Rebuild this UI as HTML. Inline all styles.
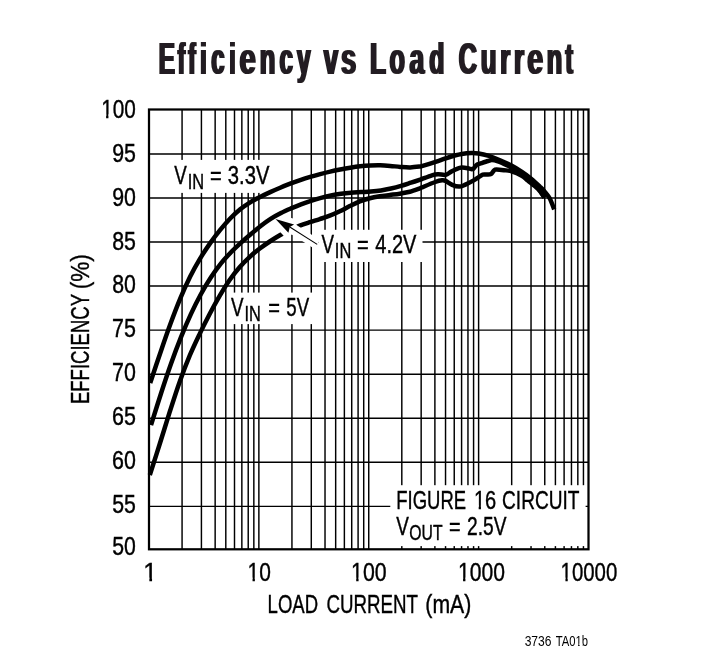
<!DOCTYPE html>
<html lang="en"><head><meta charset="utf-8"><title>Efficiency vs Load Current</title>
<style>html,body{margin:0;padding:0;background:#fff}body{width:722px;height:670px;overflow:hidden}svg{display:block}text{font-family:"Liberation Sans",sans-serif;fill:#231f20}g text{fill:#000}</style></head><body>
<svg width="722" height="670" viewBox="0 0 722 670">
<rect width="722" height="670" fill="#fff"/>
<path d="M182.07 109.50V549.30M201.42 109.50V549.30M215.15 109.50V549.30M225.80 109.50V549.30M234.50 109.50V549.30M241.85 109.50V549.30M248.22 109.50V549.30M253.84 109.50V549.30M258.87 109.50V549.30M291.94 109.50V549.30M311.29 109.50V549.30M325.02 109.50V549.30M335.67 109.50V549.30M344.37 109.50V549.30M351.72 109.50V549.30M358.09 109.50V549.30M363.71 109.50V549.30M368.74 109.50V549.30M401.81 109.50V549.30M421.16 109.50V549.30M434.89 109.50V549.30M445.54 109.50V549.30M454.24 109.50V549.30M461.59 109.50V549.30M467.96 109.50V549.30M473.58 109.50V549.30M478.61 109.50V549.30M511.68 109.50V549.30M531.03 109.50V549.30M544.76 109.50V549.30M555.41 109.50V549.30M564.11 109.50V549.30M571.46 109.50V549.30M577.83 109.50V549.30M583.45 109.50V549.30M149.00 153.90H588.50M149.00 197.96H588.50M149.00 242.02H588.50M149.00 286.08H588.50M149.00 330.14H588.50M149.00 374.20H588.50M149.00 418.26H588.50M149.00 462.32H588.50M149.00 506.38H588.50" stroke="#000" stroke-width="1.45" fill="none"/>
<rect x="172.0" y="159.9" width="103.5" height="33.0" fill="#fff"/>
<rect x="318.5" y="229.8" width="104.0" height="32.2" fill="#fff"/>
<rect x="228.5" y="292.6" width="87.0" height="31.5" fill="#fff"/>
<rect x="390.3" y="485.2" width="195.3" height="60.9" fill="#fff"/>
<rect x="149.00" y="109.50" width="439.50" height="439.80" fill="none" stroke="#000" stroke-width="2.25"/>
<path d="M149.80 475.00C151.47 469.80 156.47 454.35 159.80 443.80C163.13 433.25 166.47 422.10 169.80 411.70C173.13 401.30 176.47 390.78 179.80 381.40C183.13 372.02 186.47 363.37 189.80 355.40C193.13 347.43 196.47 340.55 199.80 333.60C203.13 326.65 206.47 320.03 209.80 313.70C213.13 307.37 216.47 301.25 219.80 295.60C223.13 289.95 226.47 284.57 229.80 279.80C233.13 275.03 236.47 270.83 239.80 267.00C243.13 263.17 246.47 259.88 249.80 256.80C253.13 253.72 256.47 251.05 259.80 248.50C263.13 245.95 266.47 243.70 269.80 241.50C273.13 239.30 276.47 237.22 279.80 235.30C283.13 233.38 286.47 231.62 289.80 230.00C293.13 228.38 296.47 226.90 299.80 225.60C303.13 224.30 306.47 223.28 309.80 222.20C313.13 221.12 316.47 220.18 319.80 219.10C323.13 218.02 326.47 217.00 329.80 215.70C333.13 214.40 336.47 212.90 339.80 211.30C343.13 209.70 346.47 207.77 349.80 206.10C353.13 204.43 356.47 202.62 359.80 201.30C363.13 199.98 366.47 199.03 369.80 198.20C373.13 197.37 376.47 196.83 379.80 196.30C383.13 195.77 386.47 195.43 389.80 195.00C393.13 194.57 396.47 194.23 399.80 193.70C403.13 193.17 406.47 192.68 409.80 191.80C413.13 190.92 417.80 189.12 419.80 188.40C421.80 187.68 419.23 188.57 421.80 187.50C424.37 186.43 431.82 183.20 435.20 182.00C438.58 180.80 440.35 180.48 442.10 180.30C443.85 180.12 444.02 180.13 445.70 180.90C447.38 181.67 449.93 183.95 452.20 184.90C454.47 185.85 457.10 186.65 459.30 186.60C461.50 186.55 463.00 185.63 465.40 184.60C467.80 183.57 471.48 181.63 473.70 180.40C475.92 179.17 477.20 178.15 478.70 177.20C480.20 176.25 481.33 175.13 482.70 174.70C484.07 174.27 485.52 174.72 486.90 174.60C488.28 174.48 489.82 174.70 491.00 174.00C492.18 173.30 493.10 171.13 494.00 170.40C494.90 169.67 494.75 169.63 496.40 169.60C498.05 169.57 501.37 169.92 503.90 170.20C506.43 170.48 508.62 170.37 511.60 171.30C514.58 172.23 519.10 174.25 521.80 175.80C524.50 177.35 525.10 178.40 527.80 180.60C530.50 182.80 535.22 186.18 538.00 189.00C540.78 191.82 543.42 196.08 544.50 197.50" stroke="#000" stroke-width="4.50" fill="none" stroke-linejoin="round"/>
<path d="M289.8 227.0L317.2 244.4" stroke="#fff" stroke-width="10.4" fill="none"/>
<path d="M275.5 219.0L294.1 224.5L289.8 227.0L288.4 232.8Z" fill="#fff" stroke="#fff" stroke-width="11" stroke-linejoin="bevel"/>
<path d="M289.8 227.0L317.2 244.4" stroke="#000" stroke-width="1.1" fill="none"/>
<path d="M275.5 219.0L294.1 224.5L289.8 227.0L288.4 232.8Z" fill="#000"/>
<path d="M151.00 425.20C152.67 419.92 157.67 403.73 161.00 393.50C164.33 383.27 167.67 373.18 171.00 363.80C174.33 354.42 177.67 345.52 181.00 337.20C184.33 328.88 187.67 321.10 191.00 313.90C194.33 306.70 197.67 300.10 201.00 294.00C204.33 287.90 207.67 282.40 211.00 277.30C214.33 272.20 217.67 267.58 221.00 263.40C224.33 259.22 227.67 255.65 231.00 252.20C234.33 248.75 237.67 245.73 241.00 242.70C244.33 239.67 247.67 236.83 251.00 234.00C254.33 231.17 257.67 228.27 261.00 225.70C264.33 223.13 267.67 220.72 271.00 218.60C274.33 216.48 277.67 214.70 281.00 213.00C284.33 211.30 287.67 209.85 291.00 208.40C294.33 206.95 297.67 205.57 301.00 204.30C304.33 203.03 307.67 201.87 311.00 200.80C314.33 199.73 317.67 198.78 321.00 197.90C324.33 197.02 327.67 196.18 331.00 195.50C334.33 194.82 337.67 194.27 341.00 193.80C344.33 193.33 347.67 192.98 351.00 192.70C354.33 192.42 357.67 192.30 361.00 192.10C364.33 191.90 367.67 191.78 371.00 191.50C374.33 191.22 377.67 190.90 381.00 190.40C384.33 189.90 387.67 189.25 391.00 188.50C394.33 187.75 397.67 186.87 401.00 185.90C404.33 184.93 407.67 183.78 411.00 182.70C414.33 181.62 419.20 180.00 421.00 179.40C422.80 178.80 419.98 179.78 421.80 179.10C423.62 178.42 429.20 176.10 431.90 175.30C434.60 174.50 435.70 174.38 438.00 174.30C440.30 174.22 443.53 175.22 445.70 174.80C447.87 174.38 449.12 172.80 451.00 171.80C452.88 170.80 455.20 169.50 457.00 168.80C458.80 168.10 460.00 167.70 461.80 167.60C463.60 167.50 466.27 167.95 467.80 168.20C469.33 168.45 470.07 169.00 471.00 169.10C471.93 169.20 472.68 169.25 473.40 168.80C474.12 168.35 474.70 167.10 475.30 166.40C475.90 165.70 476.22 165.07 477.00 164.60C477.78 164.13 478.17 164.20 480.00 163.60C481.83 163.00 486.02 161.58 488.00 161.00C489.98 160.42 490.25 160.05 491.90 160.10C493.55 160.15 495.90 160.67 497.90 161.30C499.90 161.93 501.62 162.87 503.90 163.90C506.18 164.93 508.62 165.90 511.60 167.50C514.58 169.10 518.52 171.33 521.80 173.50C525.08 175.67 528.60 178.17 531.30 180.50C534.00 182.83 535.80 184.67 538.00 187.50C540.20 190.33 543.42 195.83 544.50 197.50" stroke="#000" stroke-width="4.50" fill="none" stroke-linejoin="round"/>
<path d="M150.20 383.00C151.87 378.03 156.87 362.93 160.20 353.20C163.53 343.47 166.87 333.68 170.20 324.60C173.53 315.52 176.87 306.70 180.20 298.70C183.53 290.70 186.87 283.32 190.20 276.60C193.53 269.88 196.87 263.98 200.20 258.40C203.53 252.82 206.87 247.85 210.20 243.10C213.53 238.35 216.87 234.00 220.20 229.90C223.53 225.80 226.87 221.95 230.20 218.50C233.53 215.05 236.87 211.90 240.20 209.20C243.53 206.50 246.87 204.35 250.20 202.30C253.53 200.25 256.87 198.60 260.20 196.90C263.53 195.20 266.87 193.63 270.20 192.10C273.53 190.57 276.87 189.10 280.20 187.70C283.53 186.30 286.87 184.97 290.20 183.70C293.53 182.43 296.87 181.23 300.20 180.10C303.53 178.97 306.87 177.90 310.20 176.90C313.53 175.90 316.87 174.98 320.20 174.10C323.53 173.22 326.87 172.37 330.20 171.60C333.53 170.83 336.87 170.15 340.20 169.50C343.53 168.85 346.87 168.23 350.20 167.70C353.53 167.17 356.87 166.67 360.20 166.30C363.53 165.93 366.87 165.67 370.20 165.50C373.53 165.33 376.87 165.23 380.20 165.30C383.53 165.37 386.87 165.63 390.20 165.90C393.53 166.17 396.87 166.65 400.20 166.90C403.53 167.15 406.87 167.47 410.20 167.40C413.53 167.33 418.27 166.72 420.20 166.50C422.13 166.28 419.25 166.88 421.80 166.10C424.35 165.32 431.52 163.10 435.50 161.80C439.48 160.50 442.52 159.35 445.70 158.30C448.88 157.25 451.92 156.23 454.60 155.50C457.28 154.77 459.02 154.30 461.80 153.90C464.58 153.50 468.48 153.17 471.30 153.10C474.12 153.03 475.92 153.08 478.70 153.50C481.48 153.92 484.45 154.48 488.00 155.60C491.55 156.72 496.10 158.53 500.00 160.20C503.90 161.87 507.82 163.68 511.40 165.60C514.98 167.52 518.22 169.52 521.50 171.70C524.78 173.88 528.02 176.18 531.10 178.70C534.18 181.22 537.73 184.65 540.00 186.80C542.27 188.95 543.07 189.65 544.70 191.60C546.33 193.55 548.22 195.53 549.80 198.50C551.38 201.47 553.47 207.58 554.20 209.40" stroke="#000" stroke-width="4.50" fill="none" stroke-linejoin="round"/>
<defs><filter id="dl" x="-2%" y="-10%" width="104%" height="120%"><feMorphology operator="dilate" radius="1 0"/></filter></defs>
<text y="73.60" font-size="44.20" font-weight="bold" filter="url(#dl)"><tspan x="158.72" textLength="16.17" lengthAdjust="spacingAndGlyphs">E</tspan><tspan x="177.87" textLength="7.28" lengthAdjust="spacingAndGlyphs">f</tspan><tspan x="188.37" textLength="7.39" lengthAdjust="spacingAndGlyphs">f</tspan><tspan x="200.36" textLength="6.35" lengthAdjust="spacingAndGlyphs">i</tspan><tspan x="211.20" textLength="13.28" lengthAdjust="spacingAndGlyphs">c</tspan><tspan x="229.55" textLength="5.95" lengthAdjust="spacingAndGlyphs">i</tspan><tspan x="239.60" textLength="16.28" lengthAdjust="spacingAndGlyphs">e</tspan><tspan x="259.84" textLength="15.62" lengthAdjust="spacingAndGlyphs">n</tspan><tspan x="279.60" textLength="13.39" lengthAdjust="spacingAndGlyphs">c</tspan><tspan x="297.12" textLength="13.57" lengthAdjust="spacingAndGlyphs">y</tspan> <tspan x="323.64" textLength="14.36" lengthAdjust="spacingAndGlyphs">v</tspan><tspan x="340.94" textLength="15.22" lengthAdjust="spacingAndGlyphs">s</tspan> <tspan x="370.10" textLength="15.94" lengthAdjust="spacingAndGlyphs">L</tspan><tspan x="389.45" textLength="15.41" lengthAdjust="spacingAndGlyphs">o</tspan><tspan x="409.57" textLength="14.76" lengthAdjust="spacingAndGlyphs">a</tspan><tspan x="429.31" textLength="15.12" lengthAdjust="spacingAndGlyphs">d</tspan> <tspan x="458.69" textLength="18.19" lengthAdjust="spacingAndGlyphs">C</tspan><tspan x="480.85" textLength="15.74" lengthAdjust="spacingAndGlyphs">u</tspan><tspan x="500.24" textLength="9.92" lengthAdjust="spacingAndGlyphs">r</tspan><tspan x="514.02" textLength="10.04" lengthAdjust="spacingAndGlyphs">r</tspan><tspan x="527.13" textLength="15.83" lengthAdjust="spacingAndGlyphs">e</tspan><tspan x="546.75" textLength="15.49" lengthAdjust="spacingAndGlyphs">n</tspan><tspan x="565.58" textLength="7.46" lengthAdjust="spacingAndGlyphs">t</tspan></text>
<g fill="#000" stroke="#000" stroke-width="0.40">
<text x="101.14" y="117.70" font-size="25.00" textLength="34.66" lengthAdjust="spacingAndGlyphs">100</text>
<rect x="101.42" y="114.33" width="4.69" height="4.67" fill="#fff" stroke="none"/>
<rect x="108.43" y="114.33" width="4.52" height="4.67" fill="#fff" stroke="none"/>
<text x="112.14" y="161.70" font-size="25.00" textLength="23.77" lengthAdjust="spacingAndGlyphs">95</text>
<text x="112.14" y="205.60" font-size="25.00" textLength="23.71" lengthAdjust="spacingAndGlyphs">90</text>
<text x="112.19" y="249.50" font-size="25.00" textLength="23.71" lengthAdjust="spacingAndGlyphs">85</text>
<text x="112.20" y="293.40" font-size="25.00" textLength="23.65" lengthAdjust="spacingAndGlyphs">80</text>
<text x="112.03" y="337.30" font-size="25.00" textLength="23.88" lengthAdjust="spacingAndGlyphs">75</text>
<text x="112.03" y="381.20" font-size="25.00" textLength="23.82" lengthAdjust="spacingAndGlyphs">70</text>
<text x="112.03" y="425.10" font-size="25.00" textLength="23.88" lengthAdjust="spacingAndGlyphs">65</text>
<text x="112.03" y="469.00" font-size="25.00" textLength="23.82" lengthAdjust="spacingAndGlyphs">60</text>
<text x="112.25" y="512.90" font-size="25.00" textLength="23.65" lengthAdjust="spacingAndGlyphs">55</text>
<text x="112.25" y="555.00" font-size="25.00" textLength="23.59" lengthAdjust="spacingAndGlyphs">50</text>
<text x="143.33" y="581.00" font-size="25.00" textLength="13.90" lengthAdjust="spacingAndGlyphs">1</text>
<rect x="143.93" y="577.62" width="5.42" height="4.67" fill="#fff" stroke="none"/>
<rect x="152.05" y="577.62" width="5.22" height="4.67" fill="#fff" stroke="none"/>
<text x="247.53" y="581.00" font-size="25.00" textLength="23.31" lengthAdjust="spacingAndGlyphs">10</text>
<rect x="247.82" y="577.62" width="4.72" height="4.67" fill="#fff" stroke="none"/>
<rect x="254.88" y="577.62" width="4.55" height="4.67" fill="#fff" stroke="none"/>
<text x="351.10" y="581.00" font-size="25.00" textLength="35.52" lengthAdjust="spacingAndGlyphs">100</text>
<rect x="351.42" y="577.62" width="4.78" height="4.67" fill="#fff" stroke="none"/>
<rect x="358.57" y="577.62" width="4.60" height="4.67" fill="#fff" stroke="none"/>
<text x="458.02" y="581.00" font-size="25.00" textLength="46.92" lengthAdjust="spacingAndGlyphs">1000</text>
<rect x="458.32" y="577.62" width="4.74" height="4.67" fill="#fff" stroke="none"/>
<rect x="465.42" y="577.62" width="4.57" height="4.67" fill="#fff" stroke="none"/>
<text x="560.57" y="581.00" font-size="25.00" textLength="56.71" lengthAdjust="spacingAndGlyphs">10000</text>
<rect x="560.82" y="577.62" width="4.62" height="4.67" fill="#fff" stroke="none"/>
<rect x="567.73" y="577.62" width="4.46" height="4.67" fill="#fff" stroke="none"/>
<text><tspan x="267.62" y="612.80" font-size="25.00" textLength="50.48" lengthAdjust="spacingAndGlyphs">LOAD</tspan> <tspan x="326.46" y="612.80" font-size="25.00" textLength="91.53" lengthAdjust="spacingAndGlyphs">CURRENT</tspan> <tspan x="425.33" y="612.80" font-size="25.00" textLength="45.97" lengthAdjust="spacingAndGlyphs">(mA)</tspan></text>
<g transform="translate(89.1,402.8) rotate(-90)">
<text><tspan x="-1.28" y="0.00" font-size="25.00" textLength="110.10" lengthAdjust="spacingAndGlyphs">EFFICIENCY</tspan> <tspan x="113.44" y="0.00" font-size="25.00" textLength="35.22" lengthAdjust="spacingAndGlyphs">(%)</tspan></text>
</g>
<text><tspan x="174.35" y="183.70" font-size="25.00" textLength="12.53" lengthAdjust="spacingAndGlyphs">V</tspan><tspan x="187.73" y="188.60" font-size="21.60" textLength="16.39" lengthAdjust="spacingAndGlyphs">IN</tspan> <tspan x="209.95" y="183.70" font-size="25.00" textLength="11.74" lengthAdjust="spacingAndGlyphs">=</tspan> <tspan x="227.84" y="183.70" font-size="25.00" textLength="41.55" lengthAdjust="spacingAndGlyphs">3.3V</tspan></text>
<text><tspan x="321.45" y="252.60" font-size="25.00" textLength="12.53" lengthAdjust="spacingAndGlyphs">V</tspan><tspan x="334.83" y="257.50" font-size="21.60" textLength="16.39" lengthAdjust="spacingAndGlyphs">IN</tspan> <tspan x="357.05" y="252.60" font-size="25.00" textLength="11.74" lengthAdjust="spacingAndGlyphs">=</tspan> <tspan x="375.25" y="252.60" font-size="25.00" textLength="41.25" lengthAdjust="spacingAndGlyphs">4.2V</tspan></text>
<text><tspan x="231.05" y="315.60" font-size="25.00" textLength="12.53" lengthAdjust="spacingAndGlyphs">V</tspan><tspan x="244.43" y="320.50" font-size="21.60" textLength="16.39" lengthAdjust="spacingAndGlyphs">IN</tspan> <tspan x="268.35" y="315.60" font-size="25.00" textLength="11.74" lengthAdjust="spacingAndGlyphs">=</tspan> <tspan x="286.25" y="315.60" font-size="25.00" textLength="22.85" lengthAdjust="spacingAndGlyphs">5V</tspan></text>
<text><tspan x="396.32" y="508.70" font-size="25.00" textLength="69.77" lengthAdjust="spacingAndGlyphs">FIGURE</tspan> <tspan x="473.90" y="508.70" font-size="25.00" textLength="22.30" lengthAdjust="spacingAndGlyphs">16</tspan> <tspan x="502.05" y="508.70" font-size="25.00" textLength="77.44" lengthAdjust="spacingAndGlyphs">CIRCUIT</tspan></text>
<rect x="474.12" y="505.32" width="4.56" height="4.67" fill="#fff" stroke="none"/>
<rect x="480.94" y="505.32" width="4.40" height="4.67" fill="#fff" stroke="none"/>
<text><tspan x="396.35" y="534.80" font-size="25.00" textLength="12.63" lengthAdjust="spacingAndGlyphs">V</tspan><tspan x="409.29" y="539.70" font-size="21.60" textLength="33.24" lengthAdjust="spacingAndGlyphs">OUT</tspan> <tspan x="449.05" y="534.80" font-size="25.00" textLength="11.62" lengthAdjust="spacingAndGlyphs">=</tspan> <tspan x="467.04" y="534.80" font-size="25.00" textLength="39.45" lengthAdjust="spacingAndGlyphs">2.5V</tspan></text>
<g stroke="none">
<text><tspan x="524.65" y="646.10" font-size="14.70" textLength="26.89" lengthAdjust="spacingAndGlyphs">3736</tspan> <tspan x="555.67" y="646.10" font-size="14.70" textLength="32.40" lengthAdjust="spacingAndGlyphs">TA01b</tspan></text>
<rect x="575.08" y="643.50" width="3.02" height="3.90" fill="#fff" stroke="none"/>
<rect x="579.60" y="643.50" width="2.93" height="3.90" fill="#fff" stroke="none"/>
</g>
</g>
</svg></body></html>
